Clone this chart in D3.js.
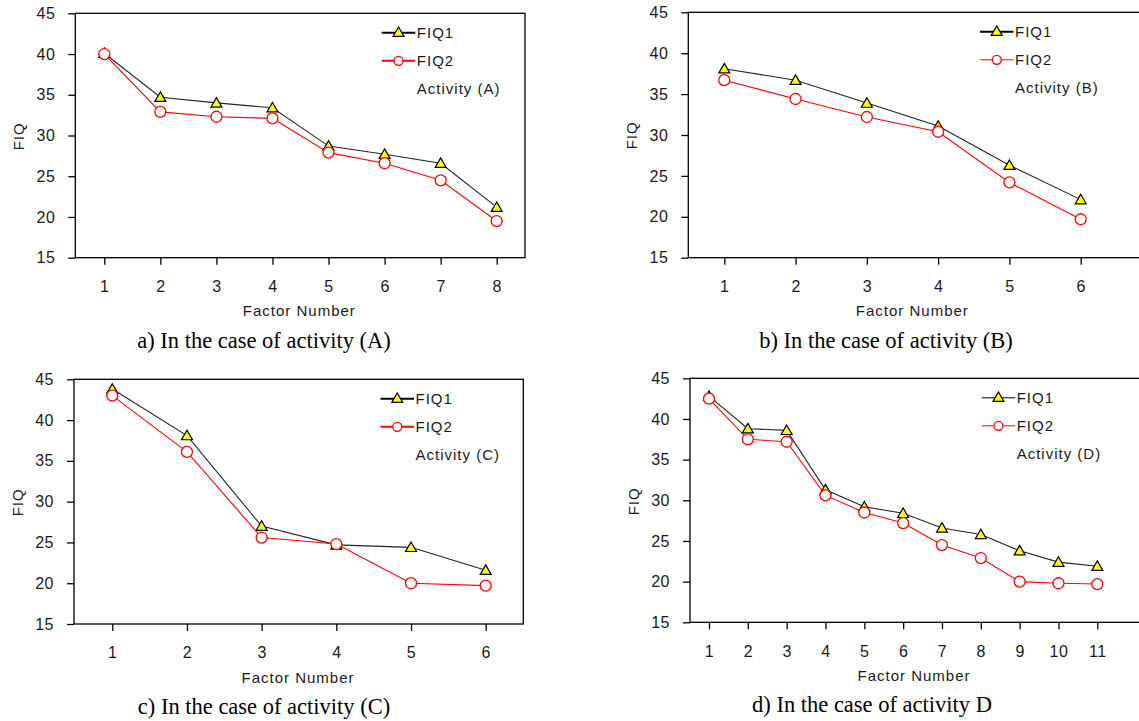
<!DOCTYPE html>
<html>
<head>
<meta charset="utf-8">
<script src="https://cdn.jsdelivr.net/npm/d3@7"></script>
<style>
  body { margin: 0; background: #fff; }
  svg { display: block; }
  .lbl { font-family: "Liberation Sans", Arial, sans-serif; font-size: 15px; letter-spacing: 1px; fill: #1a1a1a; }
  .tick-lbl { font-family: "Liberation Sans", Arial, sans-serif; font-size: 16px; letter-spacing: 0.5px; fill: #1a1a1a; }
  .cap { font-family: "Liberation Serif", "Times New Roman", serif; font-size: 22.5px; fill: #000; }
</style>
</head>
<body>
<div id="viz"></div>
<script>
// data
var factorsA = [1, 2, 3, 4, 5, 6, 7, 8];
var fiq1A = [40.1, 34.7, 34.0, 33.4, 28.7, 27.7, 26.6, 21.2];
var fiq2A = [40.0, 32.9, 32.3, 32.1, 27.9, 26.6, 24.5, 19.5];

var factorsB = [1, 2, 3, 4, 5, 6];
var fiq1B = [38.1, 36.7, 33.9, 31.1, 26.3, 22.1];
var fiq2B = [36.7, 34.4, 32.2, 30.4, 24.2, 19.7];

var factorsC = [1, 2, 3, 4, 5, 6];
var fiq1C = [43.8, 38.1, 27.0, 24.7, 24.4, 21.6];
var fiq2C = [43.0, 36.1, 25.6, 24.8, 20.0, 19.7];

var factorsD = [1, 2, 3, 4, 5, 6, 7, 8, 9, 10, 11];
var fiq1D = [42.8, 38.8, 38.6, 31.3, 29.2, 28.4, 26.6, 25.8, 23.8, 22.4, 21.9];
var fiq2D = [42.5, 37.5, 37.2, 30.6, 28.5, 27.2, 24.5, 22.9, 20.0, 19.8, 19.7];

var yTicks = [15, 20, 25, 30, 35, 40, 45];
var seriesNames = ["FIQ1", "FIQ2"];

var svg = d3.select("#viz")
  .append("svg")
  .attr("width", 1139)
  .attr("height", 721);

// panel layout (pixel positions only)
var panels = [
  {x: factorsA, s1: fiq1A, s2: fiq2A, act: "Activity (A)", cap: "a) In the case of activity (A)",
   left: 75.3, top: 13.3, bottom: 257.7, right: 525, x0: 104.3, x1: 496.7, capX: 264, legW: [2, 2]},
  {x: factorsB, s1: fiq1B, s2: fiq2B, act: "Activity (B)", cap: "b) In the case of activity (B)",
   left: 688.3, top: 12.3, bottom: 257.7, right: 1150, x0: 724.3, x1: 1080.7, capX: 886, legW: [2, 1]},
  {x: factorsC, s1: fiq1C, s2: fiq2C, act: "Activity (C)", cap: "c) In the case of activity (C)",
   left: 74, top: 379.3, bottom: 624, right: 523.3, x0: 112.3, x1: 485.7, capX: 264, legW: [2, 2]},
  {x: factorsD, s1: fiq1D, s2: fiq2D, act: "Activity (D)", cap: "d) In the case of activity D",
   left: 690, top: 378.3, bottom: 622.3, right: 1150, x0: 709, x1: 1097.3, capX: 872, legW: [1, 1]}
];

var tri = d3.symbol().type(d3.symbolTriangle).size(52);

panels.forEach(function (p) {
  var g = svg.append("g");

  var x = d3.scaleLinear()
    .domain([p.x[0], p.x[p.x.length - 1]])
    .range([p.x0, p.x1]);

  var y = d3.scaleLinear()
    .domain([15, 45])
    .range([p.bottom, p.top]);

  // frame
  g.append("rect")
    .attr("x", p.left)
    .attr("y", p.top)
    .attr("width", p.right - p.left)
    .attr("height", p.bottom - p.top)
    .attr("fill", "none")
    .attr("stroke", "#000")
    .attr("stroke-width", 1.3);

  // y axis
  var ya = g.append("g")
    .attr("transform", "translate(" + p.left + ",0)")
    .call(d3.axisLeft(y).tickValues(yTicks).tickSize(7).tickSizeOuter(0).tickPadding(13));
  ya.select(".domain").remove();
  ya.selectAll("line").attr("stroke", "#000").attr("stroke-width", 1.3);
  ya.selectAll("text").attr("class", "tick-lbl").attr("font-size", null).attr("font-family", null).attr("fill", null);

  // x axis
  var xa = g.append("g")
    .attr("transform", "translate(0," + p.bottom + ")")
    .call(d3.axisBottom(x).tickValues(p.x).tickFormat(d3.format("d")).tickSize(7).tickPadding(16));
  xa.select(".domain").remove();
  xa.selectAll("line").attr("stroke", "#000").attr("stroke-width", 1.3);
  xa.selectAll("text").attr("class", "tick-lbl").attr("font-size", null).attr("font-family", null).attr("fill", null);

  // axis titles
  g.append("text")
    .attr("class", "lbl")
    .attr("text-anchor", "middle")
    .attr("transform", "translate(" + (p.left - 51) + "," + (p.top + 123) + ") rotate(-90)")
    .text("FIQ");

  g.append("text")
    .attr("class", "lbl")
    .attr("text-anchor", "middle")
    .attr("x", p.left + 224)
    .attr("y", p.bottom + 58.5)
    .text("Factor Number");

  // lines
  var line = d3.line()
    .x(function (d, i) { return x(p.x[i]); })
    .y(function (d) { return y(d); });

  g.append("path")
    .datum(p.s1)
    .attr("d", line)
    .attr("fill", "none")
    .attr("stroke", "#222")
    .attr("stroke-width", 1.1);

  g.append("path")
    .datum(p.s2)
    .attr("d", line)
    .attr("fill", "none")
    .attr("stroke", "#ff0000")
    .attr("stroke-width", 1.1);

  g.selectAll(".tri")
    .data(p.s1)
    .enter()
    .append("path")
    .attr("d", tri)
    .attr("transform", function (d, i) { return "translate(" + x(p.x[i]) + "," + (y(d) + 1) + ")"; })
    .attr("fill", "#ffff00")
    .attr("stroke", "#000")
    .attr("stroke-width", 1.2);

  g.selectAll(".circ")
    .data(p.s2)
    .enter()
    .append("circle")
    .attr("cx", function (d, i) { return x(p.x[i]); })
    .attr("cy", function (d) { return y(d); })
    .attr("r", 5.5)
    .attr("fill", "#fff")
    .attr("stroke", "#ff0000")
    .attr("stroke-width", 1.3);

  // legend
  var lx = p.left + (p.right > 1139 ? 291.7 : 306.5);
  var lw = 33.5;
  var rows = [p.top + 19.5, p.top + 47.5];

  g.append("line")
    .attr("x1", lx).attr("x2", lx + lw)
    .attr("y1", rows[0]).attr("y2", rows[0])
    .attr("stroke", "#000").attr("stroke-width", p.legW[0]);
  g.append("path")
    .attr("d", tri)
    .attr("transform", "translate(" + (lx + lw / 2) + "," + (rows[0] + 0.5) + ")")
    .attr("fill", "#ffff00").attr("stroke", "#000").attr("stroke-width", 1.2);

  g.append("line")
    .attr("x1", lx).attr("x2", lx + lw)
    .attr("y1", rows[1]).attr("y2", rows[1])
    .attr("stroke", "#ff0000").attr("stroke-width", p.legW[1]);
  g.append("circle")
    .attr("cx", lx + lw / 2).attr("cy", rows[1]).attr("r", 4.5)
    .attr("fill", "#fff").attr("stroke", "#ff0000").attr("stroke-width", 1.3);

  seriesNames.forEach(function (n, i) {
    g.append("text")
      .attr("class", "lbl")
      .attr("x", lx + lw + 1.5)
      .attr("y", rows[i] + 5.5)
      .text(n);
  });

  g.append("text")
    .attr("class", "lbl")
    .attr("x", lx + lw + 1.5)
    .attr("y", p.top + 75 + 5.5)
    .text(p.act);

  // caption
  g.append("text")
    .attr("class", "cap")
    .attr("text-anchor", "middle")
    .attr("x", p.capX)
    .attr("y", p.bottom + 90)
    .text(p.cap);
});
</script>
</body>
</html>
